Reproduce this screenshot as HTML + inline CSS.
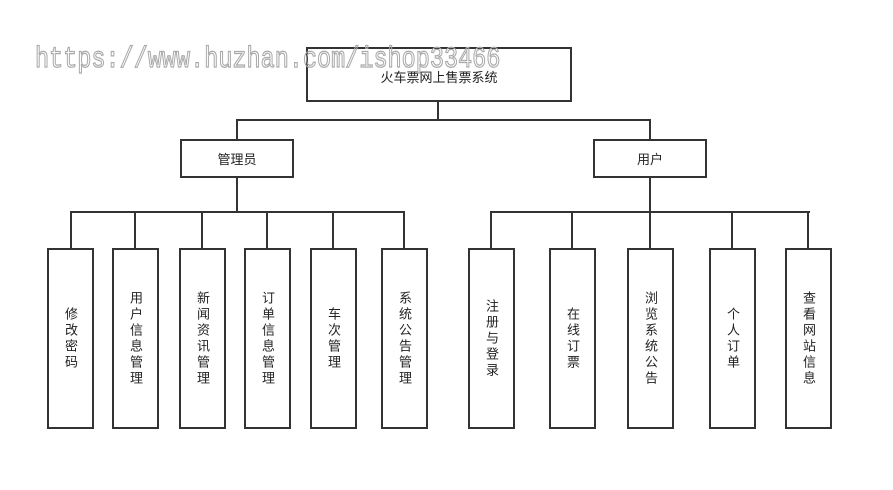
<!DOCTYPE html>
<html><head><meta charset="utf-8"><style>
body{margin:0;background:#fff;width:893px;height:490px;position:relative;overflow:hidden;font-family:"Liberation Sans","Noto Sans CJK SC",sans-serif;}
.b{position:absolute;border:2px solid #333;box-sizing:border-box;background:#fff;display:flex;align-items:center;justify-content:center;font-size:13px;color:#222;}
.v{writing-mode:vertical-rl;text-orientation:upright;letter-spacing:3px;}
.l{position:absolute;background:#333;}
.wm{position:absolute;left:35px;top:43px;font-family:"Liberation Mono",monospace;font-size:23.5px;color:transparent;-webkit-text-stroke:1px #aaa;transform:scaleY(1.25);transform-origin:left top;white-space:nowrap;z-index:5;}
</style></head><body>
<div class="l" style="left:437px;top:100px;width:2px;height:21px"></div>
<div class="l" style="left:236px;top:119px;width:415px;height:2px"></div>
<div class="l" style="left:236px;top:119px;width:2px;height:22px"></div>
<div class="l" style="left:649px;top:119px;width:2px;height:22px"></div>
<div class="l" style="left:236px;top:176px;width:2px;height:37px"></div>
<div class="l" style="left:649px;top:176px;width:2px;height:37px"></div>
<div class="l" style="left:70px;top:211px;width:335px;height:2px"></div>
<div class="l" style="left:490px;top:211px;width:320px;height:2px"></div>
<div class="l" style="left:70px;top:211px;width:2px;height:38px"></div>
<div class="l" style="left:134px;top:211px;width:2px;height:38px"></div>
<div class="l" style="left:201px;top:211px;width:2px;height:38px"></div>
<div class="l" style="left:266px;top:211px;width:2px;height:38px"></div>
<div class="l" style="left:332px;top:211px;width:2px;height:38px"></div>
<div class="l" style="left:403px;top:211px;width:2px;height:38px"></div>
<div class="l" style="left:490px;top:211px;width:2px;height:38px"></div>
<div class="l" style="left:571px;top:211px;width:2px;height:38px"></div>
<div class="l" style="left:649px;top:211px;width:2px;height:38px"></div>
<div class="l" style="left:731px;top:211px;width:2px;height:38px"></div>
<div class="l" style="left:807px;top:211px;width:2px;height:38px"></div>
<div class="b" style="left:306px;top:47px;width:266px;height:55px;align-items:flex-start;padding-top:18px">火车票网上售票系统</div>
<div class="b" style="left:180px;top:139px;width:114px;height:39px">管理员</div>
<div class="b" style="left:593px;top:139px;width:114px;height:39px">用户</div>
<div class="b" style="left:47px;top:248px;width:47px;height:181px"><span class="v">修改密码</span></div>
<div class="b" style="left:112px;top:248px;width:47px;height:181px"><span class="v">用户信息管理</span></div>
<div class="b" style="left:179px;top:248px;width:47px;height:181px"><span class="v">新闻资讯管理</span></div>
<div class="b" style="left:244px;top:248px;width:47px;height:181px"><span class="v">订单信息管理</span></div>
<div class="b" style="left:310px;top:248px;width:47px;height:181px"><span class="v">车次管理</span></div>
<div class="b" style="left:381px;top:248px;width:47px;height:181px"><span class="v">系统公告管理</span></div>
<div class="b" style="left:468px;top:248px;width:47px;height:181px"><span class="v">注册与登录</span></div>
<div class="b" style="left:549px;top:248px;width:47px;height:181px"><span class="v">在线订票</span></div>
<div class="b" style="left:627px;top:248px;width:47px;height:181px"><span class="v">浏览系统公告</span></div>
<div class="b" style="left:709px;top:248px;width:47px;height:181px"><span class="v">个人订单</span></div>
<div class="b" style="left:785px;top:248px;width:47px;height:181px"><span class="v">查看网站信息</span></div>
<div class="wm">https://www.huzhan.com/ishop33466</div>
</body></html>
